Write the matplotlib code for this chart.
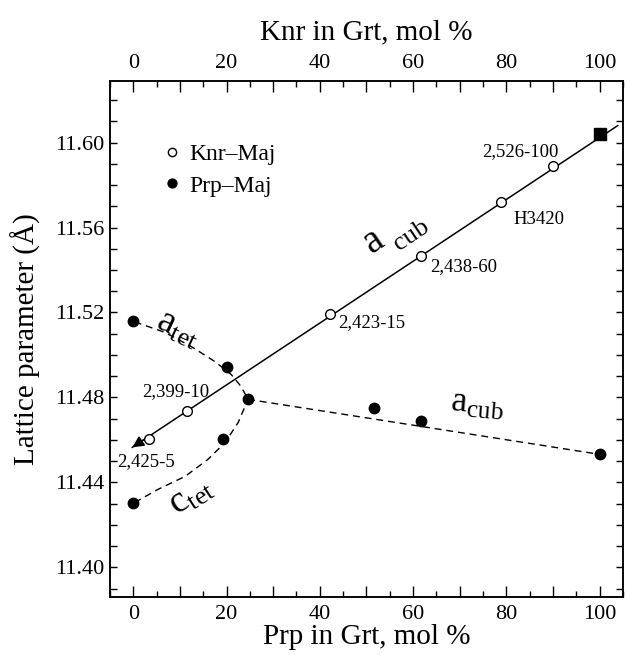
import matplotlib
matplotlib.use("Agg")
import matplotlib.pyplot as plt
from matplotlib.ticker import MultipleLocator, FuncFormatter

plt.rcParams['font.family'] = ['Liberation Serif', 'DejaVu Serif']
plt.rcParams['mathtext.fontset'] = 'custom'
plt.rcParams['mathtext.rm'] = 'Liberation Serif'
plt.rcParams['mathtext.it'] = 'Liberation Serif:italic'

# Knr-Maj (open circles) and the Knr end member (square)
knr_x = [3.4, 11.6, 42.1, 61.8, 78.9, 90.1]
knr_y = [11.4602, 11.4734, 11.5191, 11.5464, 11.5722, 11.5892]
knr_labels = ["2,425-5", "2,399-10", "2,423-15", "2,438-60", "H3420", "2,526-100"]
end_x = [100.1]
end_y = [11.6042]

# Prp-Maj (filled circles)
prp_x = [0, 0, 20, 19.3, 24.6, 51.6, 61.6, 100]
prp_y = [11.5158, 11.4301, 11.4941, 11.4602, 11.4791, 11.4748, 11.4687, 11.4532]

# trend lines
fit_x = [-0.2, 103.9]
fit_y = [11.4565, 11.608]
atet_x = [0.3, 6.8, 12.4, 17.5, 21.0, 23.1, 24.6]
atet_y = [11.5156, 11.5106, 11.5040, 11.4969, 11.4908, 11.4852, 11.4791]
ctet_x = [0.3, 5.3, 11.1, 16.0, 19.7, 22.5, 24.6]
ctet_y = [11.4305, 11.4367, 11.4428, 11.4508, 11.4588, 11.4682, 11.4791]
acub_x = [24.6, 100]
acub_y = [11.4791, 11.4532]

fig = plt.figure(figsize=(6.27, 6.55), dpi=100)
ax = fig.add_axes([0.1754, 0.0885, 0.818, 0.7878])

dash = (0, (5, 3.5))
ax.plot(fit_x, fit_y, color='black', lw=1.1, zorder=2)
ax.annotate('', xy=(fit_x[0], fit_y[0]), xytext=(3.0, fit_y[0] + 3.2 * 0.001456),
            arrowprops=dict(arrowstyle='-|>', color='black', lw=1.1, mutation_scale=17,
                            shrinkA=0, shrinkB=0), zorder=3)
ax.plot(atet_x, atet_y, color='black', lw=1.0, linestyle=dash, zorder=2)
ax.plot(ctet_x, ctet_y, color='black', lw=1.0, linestyle=dash, zorder=2)
ax.plot(acub_x, acub_y, color='black', lw=1.0, linestyle=dash, zorder=2)

ax.plot(knr_x, knr_y, 'o', ms=7, mfc='white', mec='black', mew=1.0, ls='none',
        label='Knr\u2013Maj', zorder=4)
ax.plot(prp_x, prp_y, 'o', ms=7.5, mfc='black', mec='black', ls='none',
        label='Prp\u2013Maj', zorder=4)
ax.plot(end_x, end_y, 's', ms=8, mfc='black', mec='black', ls='none', zorder=4)

# sample labels
lab_pos = [(2.7, 11.4497), (9.1, 11.4828), (51.1, 11.5153),
           (70.8, 11.5416), (87.1, 11.5638), (83.0, 11.5958)]
for (lx, ly), txt in zip(lab_pos, knr_labels):
    ax.text(lx, ly, txt, fontsize=13.5, ha='center', va='center')

# curve labels
ax.text(51.5, 11.5535, 'a', fontsize=28, rotation=34, ha='center', va='center')
ax.text(59.6, 11.5565, 'cub', fontsize=19, rotation=34, ha='center', va='center')
ax.text(9.6, 11.5125, r'$\mathrm{a}_{\mathrm{tet}}$', fontsize=27, rotation=-25,
        ha='center', va='center')
ax.text(12.3, 11.4335, r'$\mathrm{c}_{\mathrm{tet}}$', fontsize=27, rotation=33,
        ha='center', va='center')
ax.text(73.8, 11.4765, r'$\mathrm{a}_{\mathrm{cub}}$', fontsize=26, rotation=-5,
        ha='center', va='center')

ax.legend(loc='upper left', bbox_to_anchor=(0.085, 0.897), frameon=False, fontsize=17,
          handlelength=0.8, handletextpad=0.3, labelspacing=0.42, borderaxespad=0,
          markerscale=0.85)

ax.set_xlim(-5, 105)
ax.set_ylim(11.386, 11.629)

ax.xaxis.set_major_locator(MultipleLocator(10))
ax.xaxis.set_minor_locator(MultipleLocator(5))
ax.xaxis.set_major_formatter(FuncFormatter(lambda v, p: '%d' % v if round(v) % 20 == 0 else ''))
ax.yaxis.set_major_locator(MultipleLocator(0.04))
ax.yaxis.set_minor_locator(MultipleLocator(0.01))
ax.yaxis.set_major_formatter(FuncFormatter(lambda v, p: '%.2f' % v))
ax.tick_params(axis='x', which='major', direction='in', length=8, width=1, labelsize=16, pad=6,
               top=False)
ax.tick_params(axis='x', which='minor', direction='in', length=4, width=1, top=False)
ax.tick_params(axis='y', which='both', direction='in', length=5, width=1, labelsize=16, pad=4,
               right=True)

ax.set_xlabel('Prp in Grt, mol %', fontsize=21, labelpad=0)
ax.set_ylabel('Lattice parameter (Å)', fontsize=21, labelpad=10)

top = ax.twiny()
top.set_xlim(ax.get_xlim())
top.xaxis.set_major_locator(MultipleLocator(10))
top.xaxis.set_minor_locator(MultipleLocator(5))
top.xaxis.set_major_formatter(FuncFormatter(lambda v, p: '%d' % v if round(v) % 20 == 0 else ''))
top.tick_params(axis='x', which='major', direction='in', length=8, width=1, labelsize=16, pad=6)
top.tick_params(axis='x', which='minor', direction='in', length=4, width=1)
top.set_xlabel('Knr in Grt, mol %', fontsize=21, labelpad=10)

for a in (ax, top):
    for s in a.spines.values():
        s.set_linewidth(1.1)

fig.savefig('out.png', dpi=100)
